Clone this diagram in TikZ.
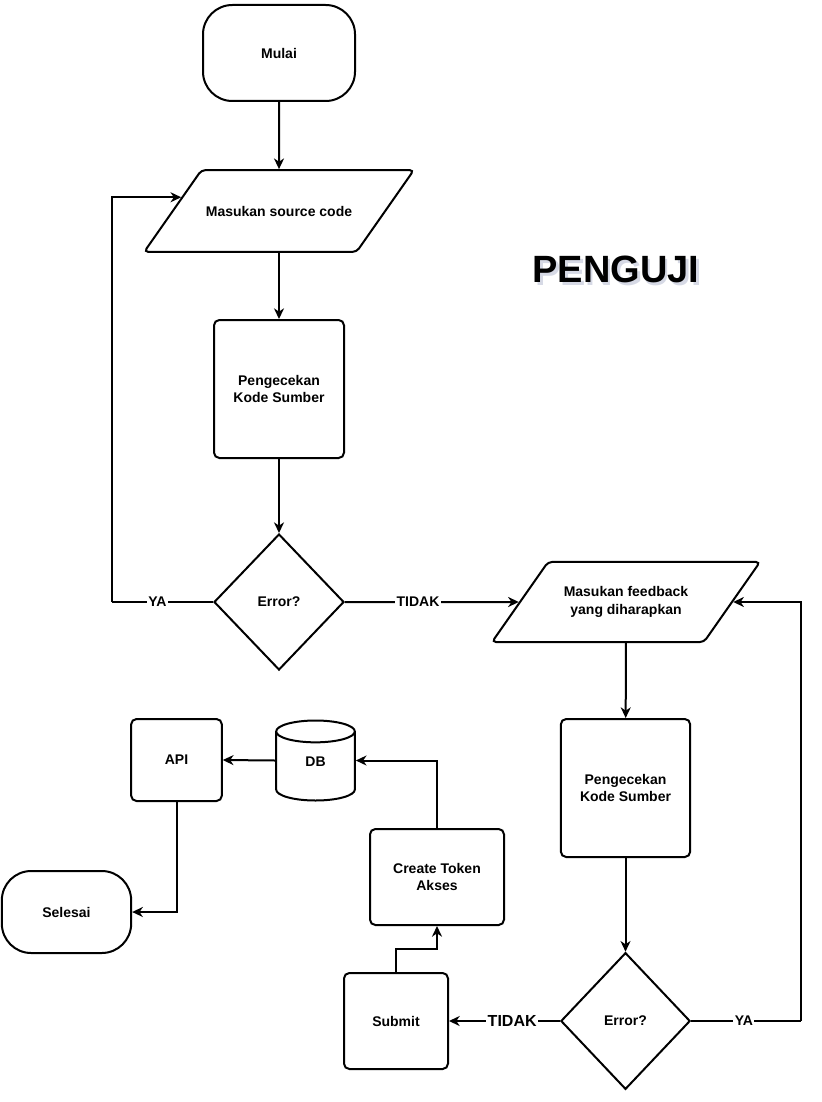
\documentclass[tikz,border=0pt]{standalone}
\usepackage{fontspec}
\setmainfont{Liberation Sans}
\usetikzlibrary{shapes.geometric,arrows.meta}

\tikzset{
	base/.style={draw, line width=1.5pt, fill=white, align=center, font=\bfseries\fontsize{10.5}{13}\selectfont},
	term/.style={base, rectangle, rounded corners=22pt},
	io/.style={base, trapezium, trapezium left angle=55, trapezium right angle=125, trapezium stretches body, rounded corners=3pt},
	proc/.style={base, rectangle, rounded corners=4pt},
	decision/.style={base, diamond, inner sep=0pt},
	store/.style={base, cylinder, shape border rotate=90, aspect=0.75, text height=7.6pt, text depth=11.25pt},
	lbl/.style={fill=white, inner sep=1pt, font=\bfseries\fontsize{10.5}{12}\selectfont},
	line/.style={line width=1.5pt},
	flow/.style={line, -{Stealth[length=8pt, width=7.5pt, inset=2.5pt]}}
}

\begin{document}
\begin{tikzpicture}[x=0.75pt, y=-0.75pt]
\useasboundingbox (0,0) rectangle (821,1102);

% kolom kiri
\node[term, minimum width=114pt, minimum height=72pt] (mulai) at (279,53) {Mulai};
\node[io, minimum width=201pt, inner ysep=26.8pt] (src) at (279,211) {Masukan source code};
\node[proc, minimum width=97.5pt, minimum height=103.5pt] (chk1) at (279,389) {Pengecekan\\Kode Sumber};
\node[decision, minimum width=97.5pt, minimum height=102pt] (err1) at (279,602) {Error?};

% kolom kanan
\node[io, minimum width=201pt, inner ysep=18.6pt] (fb) at (626,602) {Masukan feedback\\yang diharapkan};
\node[proc, minimum width=97pt, minimum height=103.5pt] (chk2) at (625.5,788) {Pengecekan\\Kode Sumber};
\node[decision, minimum width=97pt, minimum height=102.5pt] (err2) at (625.5,1021) {Error?};

% bagian bawah
\node[proc, minimum width=78pt, minimum height=72pt] (submit) at (396,1021) {Submit};
\node[proc, minimum width=100.5pt, minimum height=72pt] (token) at (437,877) {Create Token\\Akses};
\node[store, minimum width=59pt, minimum height=60pt, anchor=shape center] (db) at (315.5,760.5) {DB};
\node[proc, minimum width=68pt, minimum height=61.5pt] (api) at (176.5,760) {API};
\node[term, minimum width=97pt, minimum height=61.5pt] (selesai) at (66.5,912) {Selesai};

% judul
\node[text={rgb,255:red,120;green,130;blue,170}, opacity=0.3, font=\bfseries\fontsize{28.5}{30}\selectfont] (pengujishadow) at (618.5,272) {PENGUJI};
\node[font=\bfseries\fontsize{28.5}{30}\selectfont] (penguji) at (616,269) {PENGUJI};

\coordinate (yaL) at (112,602);
\coordinate (yaR) at (801,1021);

\path[flow]
(mulai) edge (src)
(src) edge (chk1)
(chk1) edge (err1)
(err1.east) edge node[lbl, pos=0.42] {TIDAK} (fb.west)
(fb) edge (chk2)
(chk2) edge (err2)
(err2.west) edge node[lbl, pos=0.43, font=\bfseries\fontsize{12}{14}\selectfont] {TIDAK} (submit.east)
(db.west |- db.shape center) edge (api.east)
;

\draw[line] (err1.west) -- node[lbl, pos=0.55] {YA} (yaL);
\draw[flow] (yaL) |- (src.172);
\draw[line] (err2.east) -- node[lbl, pos=0.48] {YA} (yaR);
\draw[flow] (yaR) |- (fb.east);
\draw[flow] (submit.north) -- ++(0,-23) -| (token.south);
\draw[flow] (token.north) |- (db.east |- db.shape center);
\draw[flow] (api.south) |- (selesai.east);
\end{tikzpicture}
\end{document}
